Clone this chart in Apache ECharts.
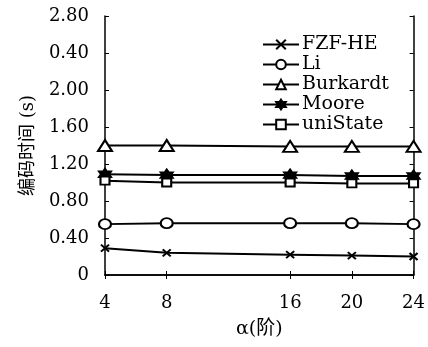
<!DOCTYPE html>
<html><head><meta charset="utf-8">
<script src="https://cdn.jsdelivr.net/npm/echarts@6/dist/echarts.min.js"></script>
<style>html,body{margin:0;padding:0;background:#fff}#c{width:428px;height:347px}</style>
</head><body><div id="c"></div>
<script>
const xValues = [4, 8, 16, 20, 24];
const yTickLabels = ['0', '0.40', '0.80', '1.20', '1.60', '2.00', '0.40', '2.80'];
const fzfHE = [0.29, 0.24, 0.22, 0.21, 0.20];
const li = [0.55, 0.56, 0.56, 0.56, 0.55];
const burkardt = [1.40, 1.40, 1.39, 1.39, 1.39];
const moore = [1.09, 1.08, 1.08, 1.07, 1.07];
const uniState = [1.02, 1.00, 1.00, 0.99, 0.99];
const seriesNames = ['FZF-HE', 'Li', 'Burkardt', 'Moore', 'uniState'];

const FONT = "'DejaVu Serif', 'Noto Sans CJK SC', serif";
const crossPath = 'path://M0,0L10,10M10,0L0,10';
const starPath = 'path://M5,0L6.4,2.5L9.3,2.5L7.9,5L9.3,7.5L6.4,7.5L5,10L3.6,7.5L0.7,7.5L2.1,5L0.7,2.5L3.6,2.5Z';

function mk(name, vals, symbol, size, filled) {
  return {
    name: name, type: 'line',
    data: xValues.map((x, i) => [x, vals[i]]),
    symbol: symbol, symbolSize: size, showAllSymbol: true,
    lineStyle: { color: '#000', width: 2 },
    itemStyle: { color: filled ? '#000' : '#fff', borderColor: '#000', borderWidth: 2 },
    emphasis: { disabled: true }, animation: false
  };
}

const chart = echarts.init(document.getElementById('c'), null, { renderer: 'canvas' });
const axisCommon = {
  axisLine: { show: true, lineStyle: { color: '#000', width: 1.5 } },
  splitLine: { show: false }
};
chart.setOption({
  backgroundColor: '#fff',
  animation: false,
  grid: { left: 105, right: 14, top: 16, bottom: 72 },
  legend: {
    left: 262, top: 35, padding: 0, orient: 'vertical', itemWidth: 36, itemHeight: 12, itemGap: 1,
    textStyle: { fontFamily: FONT, fontSize: 19, color: '#000', padding: [0, 0, 0, -2] },
    data: seriesNames
  },
  xAxis: [{
    type: 'value', min: 4, max: 24, interval: 4,
    name: 'α(阶)', nameLocation: 'middle', nameGap: 45,
    nameTextStyle: { fontFamily: FONT, fontSize: 19, color: '#000' },
    ...axisCommon,
    axisTick: { inside: true, length: 4, customValues: xValues, lineStyle: { color: '#000' } },
    axisLabel: { customValues: xValues, margin: 19, fontFamily: FONT, fontSize: 18, color: '#000' }
  }, {
    type: 'value', position: 'top', min: 4, max: 24, interval: 4,
    ...axisCommon,
    axisTick: { inside: true, length: 4, customValues: xValues, lineStyle: { color: '#000' } },
    axisLabel: { show: false }
  }],
  yAxis: [{
    type: 'value', min: 0, max: 2.8, interval: 0.4,
    name: '编码时间 (s)', nameLocation: 'middle', nameGap: 68,
    nameTextStyle: { fontFamily: FONT, fontSize: 18, color: '#000' },
    ...axisCommon,
    axisTick: { inside: true, length: 4, lineStyle: { color: '#000' } },
    axisLabel: { margin: 16, fontFamily: FONT, fontSize: 18, color: '#000',
      formatter: v => yTickLabels[Math.round(v / 0.4)] }
  }, {
    type: 'value', position: 'right', min: 0, max: 2.8, interval: 0.4,
    ...axisCommon,
    axisTick: { inside: true, length: 4, lineStyle: { color: '#000' } },
    axisLabel: { show: false }
  }],
  series: [
    mk('FZF-HE', fzfHE, crossPath, [8, 7], true),
    mk('Li', li, 'circle', [12, 10], false),
    mk('Burkardt', burkardt, 'triangle', [14, 11], false),
    mk('Moore', moore, starPath, [12, 11], true),
    mk('uniState', uniState, 'rect', [9, 8], false)
  ]
});
</script></body></html>
